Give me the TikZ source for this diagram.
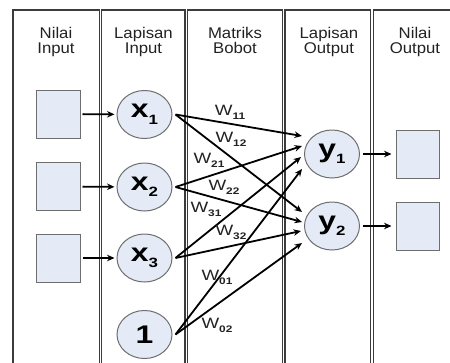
\documentclass[tikz,border=0pt]{standalone}
\usepackage{fontspec}
\setmainfont{Liberation Sans}
\newfontfamily\hdfont{Liberation Sans}[FakeStretch=1.08]
\newfontfamily\wfont{Liberation Sans}[FakeStretch=1.25]
\newfontfamily\nodefont{Liberation Sans}[FakeStretch=1.25]
\usetikzlibrary{shapes.geometric,arrows.meta}

\definecolor{framegray}{HTML}{3C3C3C}
\definecolor{boxedge}{HTML}{6E6E6E}
\definecolor{nodefill}{HTML}{E4EAF6}
\definecolor{headtext}{HTML}{222222}

% subscripts for weights and for neuron names
\newcommand\wsub[1]{\raisebox{-4pt}{\fontsize{9.5}{9.5}\selectfont\bfseries #1}}
\newcommand\nsub[1]{\raisebox{-6.5pt}{\fontsize{13.5}{13.5}\selectfont\bfseries #1}}

\begin{document}
\begin{tikzpicture}[x=1pt,y=-1pt,
  colframe/.style={draw=framegray,line width=1.3pt},
  valbox/.style={draw=boxedge,fill=nodefill,line width=1pt,
    minimum width=44pt,minimum height=48pt,inner sep=0pt},
  neuron/.style={ellipse,draw=boxedge,fill=nodefill,line width=1pt,
    minimum width=55pt,minimum height=48pt,inner sep=0pt,
    font=\nodefont\fontsize{25.5}{25.5}\selectfont\bfseries},
  head/.style={align=center,anchor=north,inner sep=0pt,text=headtext,
    font=\hdfont\fontsize{15.5}{15}\selectfont},
  wlabel/.style={inner sep=0pt,text=headtext,font=\wfont\fontsize{15}{15}\selectfont},
  link/.style={line width=1.8pt,-{Stealth[length=7.5pt,width=6.5pt]}},
]
\useasboundingbox (0,0) rectangle (450,362);
\clip (0,0) rectangle (450,362);

% column frames
\draw[colframe] (13,10) rectangle (99.3,380);
\draw[colframe] (101.7,10) rectangle (185,380);
\draw[colframe] (187.3,10) rectangle (282.7,380);
\draw[colframe] (285,10) rectangle (370.7,380);
\draw[colframe] (373.3,10) rectangle (470,380);

% column headings
\node[head] (h1) at (56,27.5) {Nilai\\Input};
\node[head] (h2) at (143.5,27.5) {Lapisan\\Input};
\node[head] (h3) at (235,27.5) {Matriks\\Bobot};
\node[head] (h4) at (329,27.5) {Lapisan\\Output};
\node[head] (h5) at (415,27.5) {Nilai\\Output};

% input values
\node[valbox] (in1) at (58,114) {};
\node[valbox] (in2) at (58,186.5) {};
\node[valbox] (in3) at (58,258) {};

% input layer
\node[neuron] (x1) at (144.5,114.5) {x\nsub{1}};
\node[neuron] (x2) at (144.5,187) {x\nsub{2}};
\node[neuron] (x3) at (144.5,258) {x\nsub{3}};
\node[neuron] (b) at (144.5,334.5) {1};

% output layer
\node[neuron] (y1) at (332,154) {y\nsub{1}};
\node[neuron] (y2) at (332,226) {y\nsub{2}};

% output values
\node[valbox,minimum width=43pt] (out1) at (417.5,154) {};
\node[valbox,minimum width=43pt] (out2) at (417.5,226) {};

% input and output arrows
\draw[link,shorten <=2pt,shorten >=2pt] (in1) -- (x1);
\draw[link,shorten <=2pt,shorten >=2pt] (in2) -- (x2);
\draw[link,shorten <=2pt,shorten >=2pt] (in3) -- (x3);
\draw[link,shorten <=2.5pt,shorten >=4pt] (y1) -- (out1);
\draw[link,shorten <=2.5pt,shorten >=4pt] (y2) -- (out2);

% weighted connections
\draw[link] ([xshift=3pt]x1.east) -- ([shift={(-2,-18)}]y1.west);
\draw[link] ([xshift=3pt]x1.east) -- ([shift={(-2,-14)}]y2.west);
\draw[link] ([xshift=3pt]x2.east) -- ([shift={(-2,-8)}]y1.west);
\draw[link] ([xshift=3pt]x2.east) -- ([shift={(-2,-4)}]y2.west);
\draw[link] ([xshift=3pt]x3.east) -- ([shift={(-3,3)}]y1.west);
\draw[link] ([xshift=3pt]x3.east) -- ([shift={(-3,5)}]y2.west);
\draw[link] ([xshift=3pt]b.east) -- ([shift={(-2,15)}]y1.west);
\draw[link] ([xshift=3pt]b.east) -- ([shift={(-2,17)}]y2.west);

% weight labels
\node[wlabel] (w11) at (230,112) {W\wsub{11}};
\node[wlabel] (w12) at (231,139) {W\wsub{12}};
\node[wlabel] (w21) at (209,160) {W\wsub{21}};
\node[wlabel] (w22) at (224,187) {W\wsub{22}};
\node[wlabel] (w31) at (206,209) {W\wsub{31}};
\node[wlabel] (w32) at (231,232) {W\wsub{32}};
\node[wlabel] (w01) at (217,277) {W\wsub{01}};
\node[wlabel] (w02) at (217,325) {W\wsub{02}};
\end{tikzpicture}
\end{document}
